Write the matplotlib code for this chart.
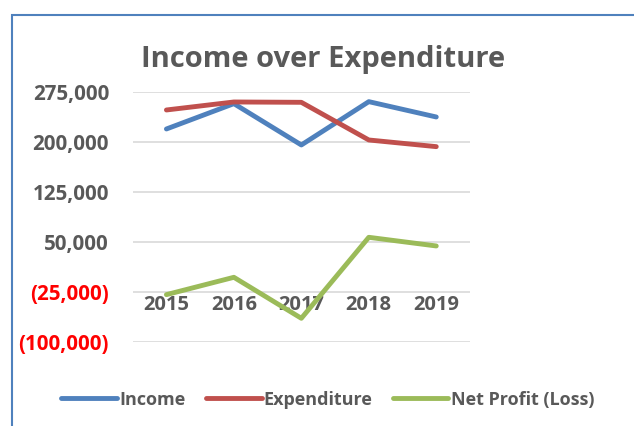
import numpy as np
import matplotlib.pyplot as plt
from matplotlib.patches import Rectangle
from matplotlib.ticker import FuncFormatter

# data
years = ["2015", "2016", "2017", "2018", "2019"]
income = [220000, 258000, 196000, 261000, 238000]
expenditure = [248500, 260500, 260000, 203500, 193500]
net_profit = [-28500, -2500, -64000, 57500, 44500]
y_ticks = [-100000, -25000, 50000, 125000, 200000, 275000]

grey = "#595959"
plt.rcParams["font.family"] = ["Open Sans", "DejaVu Sans"]

fig = plt.figure(figsize=(6.34, 4.26), dpi=100)
ax = fig.add_axes([0.2093, 0.1965, 0.532, 0.5868])

x = np.arange(len(years))
ax.plot(x, income, color="#4F81BD", lw=3.5, solid_capstyle="round", zorder=3, label="Income")
ax.plot(x, expenditure, color="#C0504D", lw=3.5, solid_capstyle="round", zorder=3, label="Expenditure")
ax.plot(x, net_profit, color="#9BBB59", lw=3.5, solid_capstyle="round", zorder=3, label="Net Profit (Loss)")

ax.set_xlim(-0.5, len(years) - 0.5)
ax.set_ylim(y_ticks[0], y_ticks[-1])
ax.set_yticks(y_ticks)
ax.yaxis.set_major_formatter(FuncFormatter(
    lambda v, p: f"({abs(v):,.0f})" if v < 0 else f"{v:,.0f}"))
ax.grid(axis="y", color="#D9D9D9", lw=1.2)
ax.set_axisbelow(True)

for s in ax.spines.values():
    s.set_visible(False)
ax.spines["bottom"].set_position(("data", -25000))

ax.set_xticks(x)
ax.set_xticklabels(years)
ax.tick_params(axis="x", length=0, pad=2, labelsize=14.5, labelcolor=grey)
ax.tick_params(axis="y", length=0, pad=17, labelsize=14.8, labelcolor=grey)
for lab in ax.get_xticklabels():
    lab.set_fontweight("bold")
for lab, v in zip(ax.get_yticklabels(), y_ticks):
    lab.set_fontweight("bold")
    if v < 0:
        lab.set_color("#FF0000")

fig.text(0.509, 0.843, "Income over Expenditure", ha="center", va="baseline",
         fontsize=21, fontweight="bold", color=grey)

leg = fig.legend(loc="center", bbox_to_anchor=(0.517, 0.062), ncol=3, frameon=False,
                 prop={"size": 13, "weight": "bold"}, handlelength=3.1,
                 handletextpad=0.12, columnspacing=1.1)
for t in leg.get_texts():
    t.set_color(grey)

# chart border (only left and top edges inside the image)
fig.patches.append(Rectangle((12 / 634, -0.1), 2.0, 1.1 - 15 / 426,
                             transform=fig.transFigure, fill=False,
                             edgecolor="#4F81BD", lw=1.5))

fig.savefig("out.png", dpi=100)
